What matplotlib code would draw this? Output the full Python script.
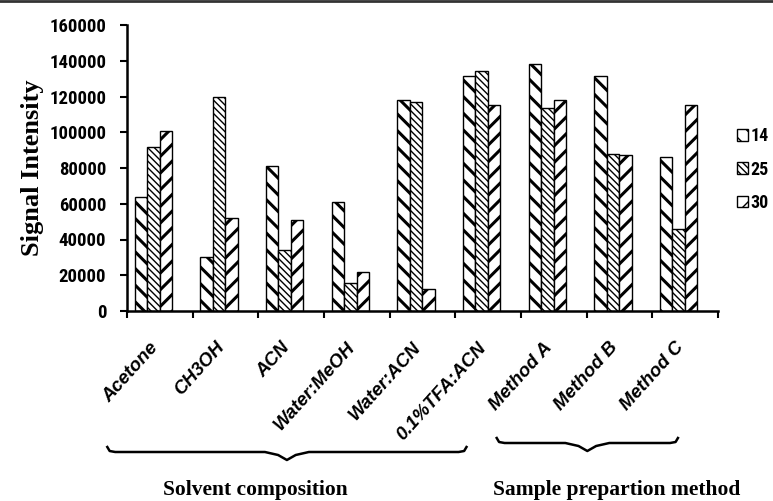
import matplotlib
matplotlib.use("Agg")
from matplotlib import pyplot as plt
from matplotlib.lines import Line2D
import matplotlib.transforms as mtransforms
import numpy as np

categories = ['Acetone', 'CH3OH', 'ACN', 'Water:MeOH', 'Water:ACN',
              '0.1%TFA:ACN', 'Method A', 'Method B', 'Method C']
series_names = ['14', '25', '30']
s14 = [64000, 30000, 81000, 61000, 118000, 131500, 138000, 131500, 86000]
s25 = [92000, 119500, 34000, 15500, 117000, 134000, 113500, 88000, 46000]
s30 = [100500, 52000, 51000, 22000, 12500, 115000, 118000, 87000, 115000]
yticks = [0, 20000, 40000, 60000, 80000, 100000, 120000, 140000, 160000]

num_font = ['Liberation Sans Narrow', 'Roboto Condensed', 'DejaVu Sans']
serif_font = ['Liberation Serif', 'DejaVu Serif']

fig = plt.figure(figsize=(7.73, 5.01), dpi=100)
ax = fig.add_axes([127/773, 1 - 311/501, (718 - 127)/773, (311 - 25)/501])

x = np.arange(len(categories))
w = 0.19
shift = -0.1
hatches = ['\\\\', '\\\\\\\\\\', '//']
hatch_lw = [2.2, 1.0, 2.2]
for j, (vals, h) in enumerate(zip([s14, s25, s30], hatches)):
    bars = ax.bar(x + shift + (j - 1) * w, vals, w, color='white', edgecolor='black',
                  linewidth=1.0, hatch=h, label=series_names[j])
    for b in bars:
        if hasattr(b, 'set_hatch_linewidth'):
            b.set_hatch_linewidth(hatch_lw[j])

ax.set_xlim(-0.5, len(categories) - 0.5)
ax.set_ylim(0, 160000)
ax.set_yticks(yticks)
ax.set_yticklabels([str(v) for v in yticks], fontfamily=num_font, fontstretch='condensed',
                   fontweight='bold', fontsize=13.5)
ax.set_xticks(np.arange(len(categories) + 1) - 0.5)
ax.set_xticklabels([])
ax.tick_params(axis='both', direction='out', length=5, width=1.5, color='black')
ax.tick_params(axis='y', pad=10)
for s in ['top', 'right']:
    ax.spines[s].set_visible(False)
for s in ['left', 'bottom']:
    ax.spines[s].set_linewidth(1.8)

ax.set_ylabel('Signal Intensity', fontfamily=serif_font, fontweight='bold', fontsize=19, labelpad=4)

# rotated category labels
blend = mtransforms.blended_transform_factory(ax.transData, ax.transAxes)
for i, c in enumerate(categories):
    ax.text(i + 0.03, -0.098, c, transform=blend, rotation=48, ha='right', va='top',
            fontfamily=['Liberation Sans', 'DejaVu Sans'], fontweight='bold', fontstyle='italic',
            fontsize=13.5)


def brace(x0, x1, y, tip=5, dip=8, bump=22):
    px = 1.0 / 286
    xc = (x0 + x1) / 2
    dx = 0.12
    bx = bump / 65.7
    xs = [x0, x0 + dx * 0.3, x0 + dx, xc - bx, xc - bx * 0.4, xc, xc + bx * 0.4, xc + bx,
          x1 - dx, x1 - dx * 0.3, x1]
    ys = [y + tip * px, y + 1 * px, y, y, y - 3 * px, y - dip * px, y - 3 * px, y,
          y, y + 1 * px, y + tip * px]
    ax.add_line(Line2D(xs, ys, transform=blend, color='black', lw=1.8, clip_on=False))


brace(-0.80, 4.67, -(452 - 311) / 286)
brace(5.13, 7.89, -(443 - 311) / 286)

fig.text(255 / 773, 1 - 490 / 501, 'Solvent composition', ha='center', va='center',
         fontfamily=serif_font, fontweight='bold', fontsize=15.5)
fig.text(617 / 773, 1 - 490 / 501, 'Sample prepartion method', ha='center', va='center',
         fontfamily=serif_font, fontweight='bold', fontsize=15.5)

leg = fig.legend(loc='upper left', bbox_to_anchor=(730 / 773, 1 - 120 / 501), frameon=False,
                 handlelength=0.6, handleheight=0.6, handletextpad=0.15, labelspacing=0.85,
                 prop={'family': num_font, 'stretch': 'condensed', 'weight': 'bold', 'size': 13},
                 borderaxespad=0)

fig.add_artist(Line2D([0, 1], [0.998, 0.998], transform=fig.transFigure, color='#333333', lw=2))

fig.savefig('out.png', dpi=100)
